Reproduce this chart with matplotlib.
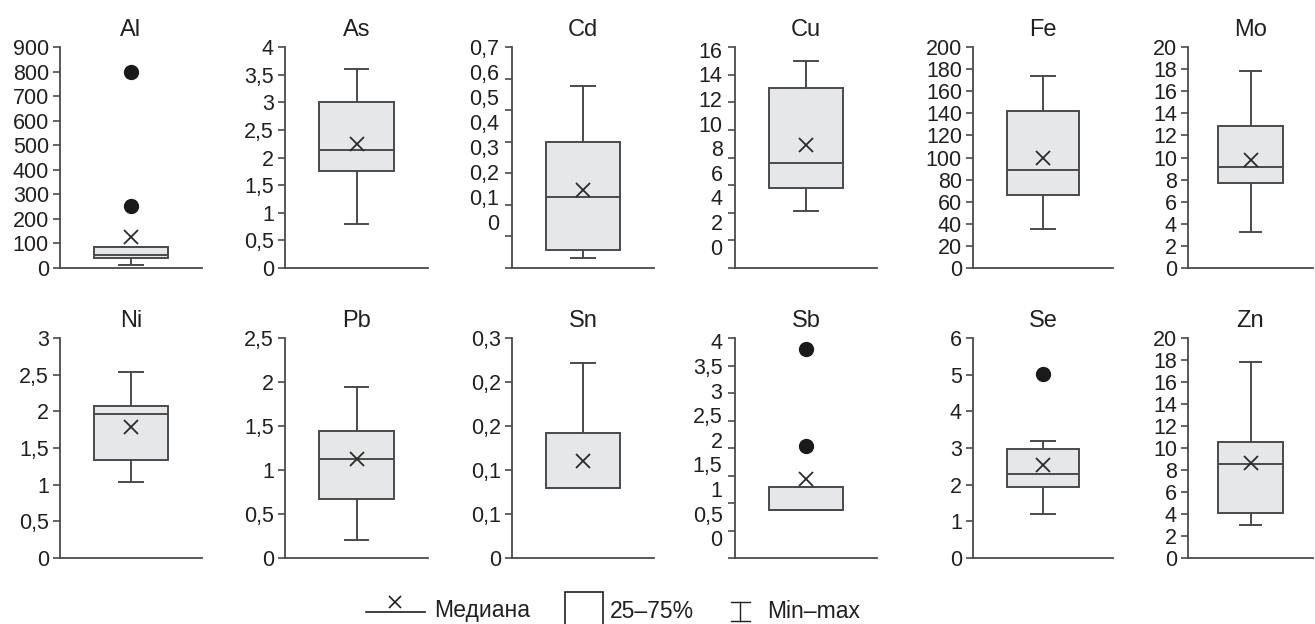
import numpy as np
import matplotlib
matplotlib.use("Agg")
from matplotlib import pyplot as plt
from matplotlib.patches import Rectangle
from matplotlib.lines import Line2D

plt.rcParams['font.family'] = ['Liberation Sans', 'DejaVu Sans']

# Data
elements = ['Al', 'As', 'Cd', 'Cu', 'Fe', 'Mo', 'Ni', 'Pb', 'Sn', 'Sb', 'Se', 'Zn']
whislo = [11, 0.80, 0.032, 4.1, 35.6, 3.25, 1.03, 0.206, 0.096, 0.88, 1.19, 3.0]
q1 = [41, 1.76, 0.057, 5.8, 66, 7.72, 1.34, 0.672, 0.096, 0.88, 1.93, 4.12]
med = [53, 2.14, 0.224, 7.6, 89, 9.12, 1.96, 1.13, 0.096, 0.88, 2.29, 8.55]
q3 = [85, 3.0, 0.398, 13.0, 142.5, 12.83, 2.07, 1.439, 0.171, 1.29, 2.98, 10.52]
whishi = [85, 3.61, 0.578, 14.96, 174, 17.84, 2.535, 1.943, 0.266, 1.29, 3.19, 17.85]
means = [126, 2.25, 0.248, 8.9, 100, 9.79, 1.79, 1.12, 0.132, 1.44, 2.53, 8.6]
outliers = [[800, 254], [], [], [], [], [], [], [], [], [3.80, 2.04], [5.01], []]

# y ticks: (top, step) and tick label texts
tick_top = [900, 4, 0.7, 16, 200, 20, 3, 2.5, 0.3, 4, 6, 20]
tick_step = [100, 0.5, 0.1, 2, 20, 2, 0.5, 0.5, 0.06, 0.5, 1, 2]
tick_labels = [
    ['0', '100', '200', '300', '400', '500', '600', '700', '800', '900'],
    ['0', '0,5', '1', '1,5', '2', '2,5', '3', '3,5', '4'],
    ['0', '0,1', '0,2', '0,3', '0,4', '0,5', '0,6', '0,7'],
    ['0', '2', '4', '6', '8', '10', '12', '14', '16'],
    ['0', '20', '40', '60', '80', '100', '120', '140', '160', '180', '200'],
    ['0', '2', '4', '6', '8', '10', '12', '14', '16', '18', '20'],
    ['0', '0,5', '1', '1,5', '2', '2,5', '3'],
    ['0', '0,5', '1', '1,5', '2', '2,5'],
    ['0', '0,1', '0,1', '0,2', '0,2', '0,3'],
    ['0', '0,5', '1', '1,5', '2', '2,5', '3', '3,5', '4'],
    ['0', '1', '2', '3', '4', '5', '6'],
    ['0', '2', '4', '6', '8', '10', '12', '14', '16', '18', '20'],
]
# a few panels have labels squeezed off their ticks: (lowest, highest) label position
label_span = {'Cd': (0.145, 0.7), 'Cu': (1.55, 15.8), 'Sb': (0.36, 3.94)}

# layout in pixels: left, width per panel; rows top/bottom
W, H = 1315, 624
lefts = [60, 285, 512, 735, 973, 1188]
widths = [142, 143, 142, 142, 140, 125]
rows = [(47, 268), (338, 558)]

edge = '#4a4a4a'
txt = '#231f20'

fig = plt.figure(figsize=(W / 100, H / 100), dpi=100)

for i, el in enumerate(elements):
    r, c = divmod(i, 6)
    top, bot = rows[r]
    ax = fig.add_axes([lefts[c] / W, 1 - bot / H, widths[c] / W, (bot - top) / H])
    stats = [dict(med=med[i], q1=q1[i], q3=q3[i], whislo=whislo[i], whishi=whishi[i],
                  mean=means[i], fliers=outliers[i])]
    ax.bxp(stats, positions=[1], widths=1.04, capwidths=0.33, showmeans=True,
           patch_artist=True,
           boxprops=dict(facecolor='#e6e7e8', edgecolor=edge, linewidth=1.4),
           medianprops=dict(color=edge, linewidth=1.4),
           whiskerprops=dict(color=edge, linewidth=1.4),
           capprops=dict(color=edge, linewidth=1.4),
           meanprops=dict(marker='x', markeredgecolor='#2b2b2b', markersize=10, markeredgewidth=1.3),
           flierprops=dict(marker='o', markerfacecolor='#1a1a1a', markeredgecolor='#1a1a1a', markersize=10))
    ax.set_xlim(0, 2)
    ax.set_ylim(0, tick_top[i])
    n = len(tick_labels[i])
    ticks = np.arange(n) * tick_step[i]
    fs = 15.5
    if el in label_span:
        lo, hi = label_span[el]
        ax.yaxis.remove_overlapping_locs = False
        ax.set_yticks(ticks, labels=[''] * n)
        ax.set_yticks(np.linspace(lo, hi, n), labels=tick_labels[i], minor=True)
        ax.tick_params(axis='y', which='minor', length=0, pad=9, labelsize=fs, labelcolor=txt)
    else:
        ax.set_yticks(ticks, labels=tick_labels[i])
    ax.tick_params(axis='y', which='major', length=5, width=1.2, color=edge, pad=3,
                   labelsize=fs, labelcolor=txt)
    ax.set_xticks([])
    for s in ('top', 'right'):
        ax.spines[s].set_visible(False)
    for s in ('left', 'bottom'):
        ax.spines[s].set_color(edge)
        ax.spines[s].set_linewidth(1.3)
    ax.patch.set_alpha(0)
    ax.set_title(el, fontsize=17, color=txt, pad=8)

# legend drawn in pixel space along the bottom
lg = fig.add_axes([0, 0, 1, 1], zorder=-1)
lg.set_xlim(0, W)
lg.set_ylim(H, 0)
lg.axis('off')
lg.add_line(Line2D([366, 425], [612, 612], color=txt, lw=1.2))
lg.plot([395], [602], marker='x', color=txt, markersize=8, mew=1.2)
lg.text(434, 611, 'Медиана', fontsize=16.5, va='center', ha='left', color=txt)
lg.add_patch(Rectangle((565, 592), 38, 40, facecolor='white', edgecolor=txt, lw=1.2, clip_on=False))
lg.text(610, 611, '25–75%', fontsize=16.5, va='center', ha='left', color=txt)
lg.add_line(Line2D([740, 740], [602, 621], color=txt, lw=1.0))
lg.add_line(Line2D([731, 750], [602, 602], color=txt, lw=1.0))
lg.add_line(Line2D([731, 750], [621, 621], color=txt, lw=1.0))
lg.text(767, 611, 'Min–max', fontsize=16.5, va='center', ha='left', color=txt)

fig.savefig('out.png', dpi=100)
